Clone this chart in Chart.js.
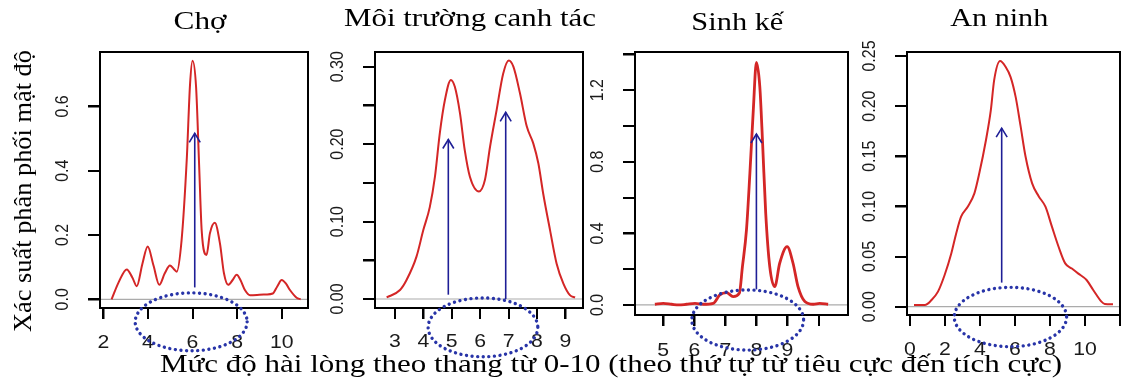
<!DOCTYPE html>
<html>
<head>
<meta charset="utf-8">
<script src="https://cdn.jsdelivr.net/npm/chart.js@4.4.0/dist/chart.umd.min.js"></script>
<style>
html,body{margin:0;padding:0;background:#fff;}
body{width:1124px;height:387px;position:relative;overflow:hidden;font-family:"Liberation Serif","Times New Roman",serif;}
canvas{position:absolute;left:0;top:0;}
.t{position:absolute;white-space:nowrap;color:#000;transform-origin:50% 50%;}
</style>
</head>
<body>
<canvas id="c1" width="1124" height="387"></canvas>
<canvas id="c2" width="1124" height="387"></canvas>
<canvas id="c3" width="1124" height="387"></canvas>
<canvas id="c4" width="1124" height="387"></canvas>
<script>
// ---------- DATA ----------
const panelTitles = ['Chợ', 'Môi trường canh tác', 'Sinh kế', 'An ninh'];
const yAxisTitle = 'Xác suất phân phối mật độ';
const xAxisTitle = 'Mức độ hài lòng theo thang từ 0-10 (theo thứ tự từ tiêu cực đến tích cực)';

// Chợ
const choX = [2.37, 2.7, 3.05, 3.3, 3.5, 3.75, 3.99, 4.25, 4.51, 4.75, 4.99, 5.15, 5.29, 5.51, 5.74, 5.89, 6.0, 6.16, 6.3, 6.41, 6.63, 6.78, 7.0, 7.23, 7.41, 7.6, 7.8, 7.98, 8.15, 8.35, 8.58, 9.0, 9.3, 9.6, 9.8, 10.0, 10.2, 10.37, 10.67, 10.85];
const choY = [0.0, 0.055, 0.093, 0.068, 0.041, 0.11, 0.164, 0.105, 0.045, 0.08, 0.105, 0.095, 0.086, 0.184, 0.433, 0.67, 0.742, 0.66, 0.41, 0.215, 0.138, 0.205, 0.238, 0.174, 0.081, 0.045, 0.06, 0.076, 0.06, 0.029, 0.013, 0.014, 0.015, 0.018, 0.04, 0.06, 0.048, 0.029, 0.005, 0.0];
const choXTicks = [2, 4, 6, 8, 10];
const choXTickLabels = ['2', '4', '6', '8', '10'];
const choYTicks = [0, 0.2, 0.4, 0.6];
const choYTickLabels = ['0.0', '0.2', '0.4', '0.6'];
const choArrowX = [6.1];
const choArrowFrom = [0.037];
const choArrowTo = [0.516];
const choEllipse = [5.94, -0.07, 2.51, 0.09]; // cx, cy, rx, ry (data units)

// Môi trường canh tác
const moiX = [2.71, 3.18, 3.41, 3.76, 4.0, 4.23, 4.41, 4.58, 4.76, 4.97, 5.11, 5.29, 5.46, 5.64, 5.96, 6.17, 6.35, 6.58, 6.81, 7.01, 7.17, 7.4, 7.64, 7.87, 8.05, 8.22, 8.46, 8.69, 8.93, 9.16, 9.34];
const moiY = [0.002, 0.0116, 0.0245, 0.0547, 0.089, 0.119, 0.158, 0.214, 0.257, 0.283, 0.274, 0.240, 0.192, 0.158, 0.139, 0.154, 0.197, 0.244, 0.291, 0.308, 0.300, 0.266, 0.223, 0.201, 0.175, 0.136, 0.089, 0.046, 0.020, 0.005, 0.002];
const moiXTicks = [3, 4, 5, 6, 7, 8, 9];
const moiXTickLabels = ['3', '4', '5', '6', '7', '8', '9'];
const moiYTicks = [0, 0.05, 0.10, 0.15, 0.20, 0.25, 0.30];
const moiYTickLabels = ['0.00', '', '0.10', '', '0.20', '', '0.30'];
const moiArrowX = [4.88, 6.9];
const moiArrowFrom = [0.0056, 0.0];
const moiArrowTo = [0.206, 0.241];
const moiEllipse = [6.1, -0.0366, 1.93, 0.038];

// Sinh kế
const sinhX = [4.73, 5.0, 5.27, 5.5, 5.75, 6.02, 6.29, 6.61, 6.82, 7.04, 7.25, 7.45, 7.55, 7.68, 7.79, 7.9, 8.0, 8.11, 8.2, 8.3, 8.43, 8.59, 8.75, 8.99, 9.18, 9.34, 9.56, 9.83, 10.04, 10.31];
const sinhY = [0.004, 0.009, 0.004, 0.0, 0.004, 0.009, 0.004, 0.009, 0.056, 0.069, 0.047, 0.065, 0.214, 0.419, 0.735, 1.088, 1.355, 1.219, 0.902, 0.512, 0.214, 0.102, 0.233, 0.326, 0.233, 0.102, 0.019, 0.004, 0.009, 0.004];
const sinhXTicks = [5, 6, 7, 8, 9, 10];
const sinhXTickLabels = ['5', '6', '7', '8', '9', ''];
const sinhYTicks = [0, 0.2, 0.4, 0.6, 0.8, 1.0, 1.2, 1.4];
const sinhYTickLabels = ['0.0', '', '0.4', '', '0.8', '', '1.2', ''];
const sinhArrowX = [8.0];
const sinhArrowFrom = [0.087];
const sinhArrowTo = [0.955];
const sinhEllipse = [7.72, -0.084, 1.8, 0.168];

// An ninh
const anX = [0.23, 0.85, 1.23, 1.6, 1.98, 2.36, 2.64, 2.92, 3.3, 3.68, 3.96, 4.34, 4.62, 4.81, 5.15, 5.47, 5.75, 6.04, 6.32, 6.6, 6.98, 7.36, 7.74, 8.11, 8.49, 8.87, 9.25, 9.62, 10.09, 10.47, 10.94, 11.13, 11.6];
const anY = [0.0017, 0.0017, 0.0066, 0.015, 0.0316, 0.053, 0.073, 0.0898, 0.0997, 0.113, 0.133, 0.166, 0.196, 0.226, 0.245, 0.239, 0.229, 0.209, 0.18, 0.15, 0.123, 0.11, 0.0997, 0.0798, 0.0598, 0.0432, 0.038, 0.033, 0.0266, 0.0166, 0.005, 0.0027, 0.0023];
const anXTicks = [0, 2, 4, 6, 8, 10, 12];
const anXTickLabels = ['0', '2', '4', '6', '8', '10', ''];
const anYTicks = [0, 0.05, 0.10, 0.15, 0.20, 0.25];
const anYTickLabels = ['0.00', '0.05', '0.10', '0.15', '0.20', '0.25'];
const anArrowX = [5.24];
const anArrowFrom = [0.024];
const anArrowTo = [0.178];
const anEllipse = [5.74, -0.0103, 3.21, 0.0296];

// ---------- LAYOUT / STYLE ----------
const W = 1124, H = 387, YW = 50, XH = 50;
const TICK_FONT = '"Liberation Sans", Arial, sans-serif';
const panels = [
  {id:'c1', xs:choX, ys:choY, xt:choXTicks, xl:choXTickLabels, yt:choYTicks, yl:choYTickLabels,
   ax:choArrowX, af:choArrowFrom, at:choArrowTo, el:choEllipse,
   box:[100,52,308,308], xr:[1.85,11.18], yr:[-0.027,0.769], xbase:348, lw:2,
   title:{cx:200, base:30, w:53}},
  {id:'c2', xs:moiX, ys:moiY, xt:moiXTicks, xl:moiXTickLabels, yt:moiYTicks, yl:moiYTickLabels,
   ax:moiArrowX, af:moiArrowFrom, at:moiArrowTo, el:moiEllipse,
   box:[375,52,583,308], xr:[2.30,9.62], yr:[-0.0116,0.319], xbase:347, lw:2,
   title:{cx:470, base:27, w:252}},
  {id:'c3', xs:sinhX, ys:sinhY, xt:sinhXTicks, xl:sinhXTickLabels, yt:sinhYTicks, yl:sinhYTickLabels,
   ax:sinhArrowX, af:sinhArrowFrom, at:sinhArrowTo, el:sinhEllipse,
   box:[635,52,848,315], xr:[4.09,10.95], yr:[-0.056,1.413], xbase:356, lw:2.8,
   title:{cx:737, base:31, w:92}},
  {id:'c4', xs:anX, ys:anY, xt:anXTicks, xl:anXTickLabels, yt:anYTicks, yl:anYTickLabels,
   ax:anArrowX, af:anArrowFrom, at:anArrowTo, el:anEllipse,
   box:[907,52,1120,315], xr:[-0.17,12.0], yr:[-0.0083,0.254], xbase:355, lw:2,
   title:{cx:999, base:27, w:98}}
];

function makeOverlay(p) {
  return {
    id: 'overlay_' + p.id,
    beforeDatasetsDraw(chart) {
      const {ctx, chartArea: a, scales: {y}} = chart;
      const y0 = y.getPixelForValue(0);
      ctx.save();
      ctx.strokeStyle = '#ababab'; ctx.lineWidth = 1.2;
      ctx.beginPath(); ctx.moveTo(a.left, y0); ctx.lineTo(a.right, y0); ctx.stroke();
      ctx.restore();
    },
    afterDraw(chart) {
      const {ctx, chartArea: a, scales: {x, y}} = chart;
      ctx.save();
      ctx.setLineDash([]);
      ctx.lineCap = 'butt';
      // box
      ctx.strokeStyle = '#000'; ctx.lineWidth = 2;
      ctx.strokeRect(a.left, a.top, a.right - a.left, a.bottom - a.top);
      // y tick marks
      ctx.fillStyle = '#000';
      for (let i = 0; i < p.yt.length; i++) {
        const py = Math.round(y.getPixelForValue(p.yt[i]));
        ctx.fillRect(a.left - 12, py - 1, 12, 2);
      }
      // x tick marks
      for (let i = 0; i < p.xt.length; i++) {
        const px = Math.round(x.getPixelForValue(p.xt[i]));
        ctx.fillRect(px - 1, a.bottom, 2, 11);
      }
      // rotated y tick labels
      ctx.fillStyle = '#1a1a1a';
      ctx.font = '16px ' + TICK_FONT;
      ctx.textAlign = 'center'; ctx.textBaseline = 'middle';
      p.yt.forEach((v, i) => {
        const lab = p.yl[i];
        if (!lab) return;
        ctx.save();
        ctx.translate(a.left - 37, y.getPixelForValue(v));
        ctx.rotate(-Math.PI / 2);
        ctx.scale(1, 1.15);
        ctx.fillText(lab, 0, 0);
        ctx.restore();
      });
      // x tick labels (slightly stretched like the reference)
      ctx.textBaseline = 'alphabetic';
      ctx.font = '18px ' + TICK_FONT;
      p.xt.forEach((v, i) => {
        const lab = p.xl[i];
        if (!lab) return;
        ctx.save();
        ctx.translate(x.getPixelForValue(v), p.xbase);
        ctx.scale(1.18, 1);
        ctx.fillText(lab, 0, 0);
        ctx.restore();
      });
      // arrows
      ctx.strokeStyle = '#1e1e96'; ctx.lineWidth = 1.6;
      p.ax.forEach((xv, i) => {
        const px = x.getPixelForValue(xv);
        const y1 = y.getPixelForValue(p.af[i]);
        const y2 = y.getPixelForValue(p.at[i]);
        ctx.beginPath(); ctx.moveTo(px, y1); ctx.lineTo(px, y2); ctx.stroke();
        ctx.beginPath(); ctx.moveTo(px - 5.5, y2 + 9); ctx.lineTo(px, y2); ctx.lineTo(px + 5.5, y2 + 9); ctx.stroke();
      });
      // dotted ellipse
      const [cx, cy, rx, ry] = p.el;
      const pcx = x.getPixelForValue(cx), pcy = y.getPixelForValue(cy);
      const prx = Math.abs(x.getPixelForValue(cx + rx) - pcx);
      const pry = Math.abs(y.getPixelForValue(cy + ry) - pcy);
      ctx.strokeStyle = '#2834a8'; ctx.lineWidth = 3.4; ctx.lineCap = 'round';
      ctx.setLineDash([0.01, 5.6]);
      ctx.beginPath(); ctx.ellipse(pcx, pcy, prx, pry, 0, 0, Math.PI * 2); ctx.stroke();
      ctx.restore();
    }
  };
}

const gridOpts = (len) => ({display: true, drawOnChartArea: false, drawTicks: true, tickLength: len, color: '#000', lineWidth: 1.5});

panels.forEach(p => {
  const [bl, bt, br, bb] = p.box;
  new Chart(document.getElementById(p.id), {
    type: 'line',
    data: {
      datasets: [{
        data: p.xs.map((v, i) => ({x: v, y: p.ys[i]})),
        borderColor: '#d42626', borderWidth: p.lw, pointRadius: 0,
        cubicInterpolationMode: 'monotone', fill: false
      }]
    },
    options: {
      responsive: false, animation: false, events: [],
      layout: {padding: {left: bl - YW, top: bt, right: W - br, bottom: H - bb - XH}},
      plugins: {legend: {display: false}, tooltip: {enabled: false}},
      scales: {
        x: {
          type: 'linear', position: 'bottom', min: p.xr[0], max: p.xr[1],
          afterBuildTicks: s => { s.ticks = p.xt.map(v => ({value: v})); },
          afterFit: s => { s.height = XH; s.paddingLeft = 0; s.paddingRight = 0; },
          ticks: {display: false, autoSkip: false, callback: (v, i) => p.xl[i]},
          grid: gridOpts(11),
          border: {display: true, color: '#000', width: 2}
        },
        y: {
          type: 'linear', position: 'left', min: p.yr[0], max: p.yr[1],
          afterBuildTicks: s => { s.ticks = p.yt.map(v => ({value: v})); },
          afterFit: s => { s.width = YW; s.paddingTop = 0; s.paddingBottom = 0; },
          ticks: {display: false, callback: (v, i) => p.yl[i]},
          grid: gridOpts(12),
          border: {display: true, color: '#000', width: 2}
        }
      }
    },
    plugins: [makeOverlay(p)]
  });
});

// ---------- TEXT ----------
function placeText(text, cx, cy, size, targetW, rotated, isBaseline) {
  const d = document.createElement('div');
  d.className = 't';
  d.textContent = text;
  d.style.fontSize = size + 'px';
  d.style.lineHeight = size + 'px';
  document.body.appendChild(d);
  const w = d.getBoundingClientRect().width;
  const sx = targetW / w;
  d.style.left = (cx - w / 2) + 'px';
  if (rotated) {
    d.style.top = (cy - size / 2) + 'px';
    d.style.transform = 'rotate(-90deg) scaleX(' + sx + ')';
  } else {
    const top = isBaseline ? cy - 0.8375 * size : cy - size / 2;
    d.style.top = top + 'px';
    d.style.transform = 'scaleX(' + sx + ')';
  }
}
panels.forEach((p, i) => placeText(panelTitles[i], p.title.cx, p.title.base, 26, p.title.w, false, true));
placeText(yAxisTitle, 23, 191, 26, 282, true, false);
placeText(xAxisTitle, 611, 372, 25, 902, false, true);
</script>
</body>
</html>
